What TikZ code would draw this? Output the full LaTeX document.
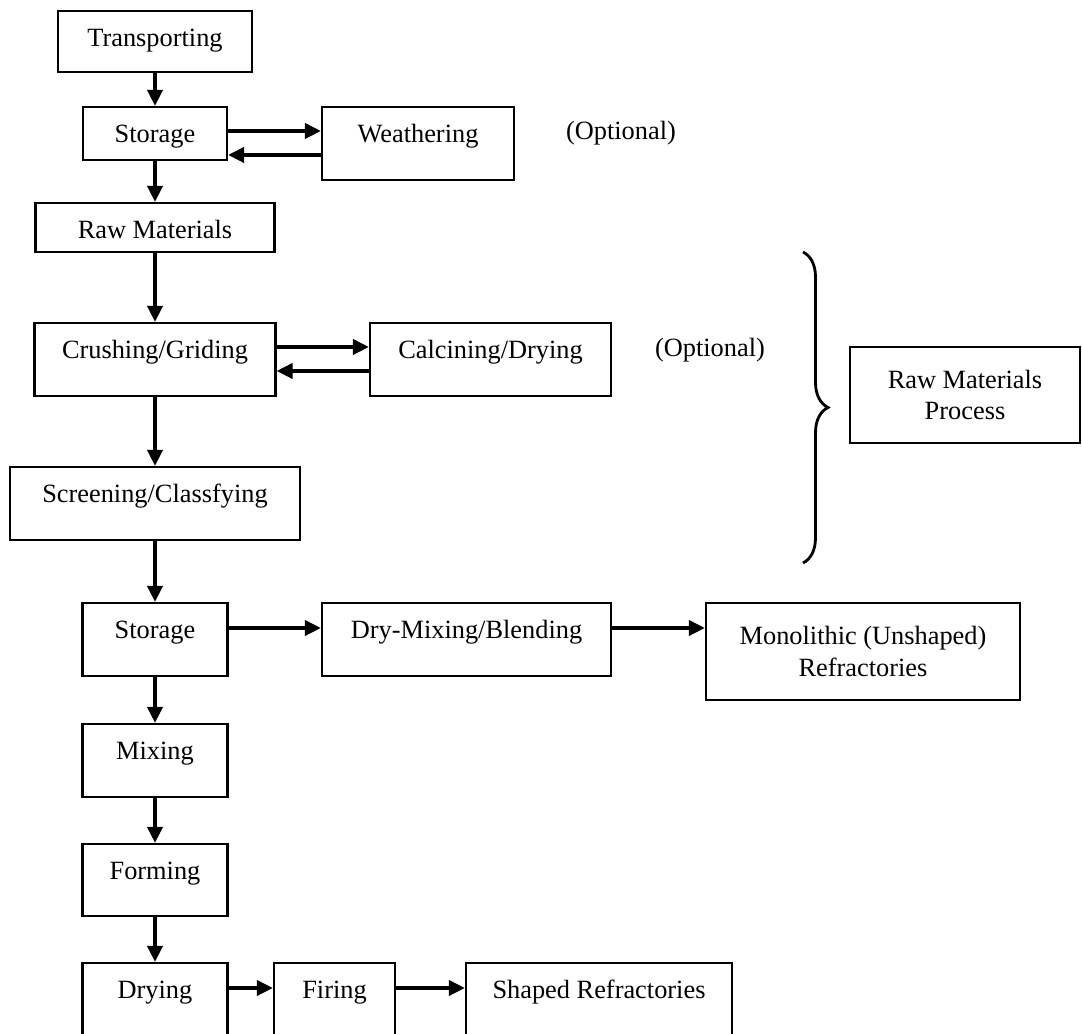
\documentclass[tikz,border=0pt]{standalone}
\usepackage{fontspec}
\setmainfont{Liberation Serif}
\usetikzlibrary{arrows.meta}
\usetikzlibrary{decorations.pathreplacing}

\tikzset{
  stepbox/.style={draw, line width=1.2pt, inner sep=0pt, text height=0.72cm, text depth=0.74cm, font=\fontsize{15}{18}\selectfont},
  twobox/.style={draw, line width=1.2pt, align=center, font=\fontsize{15}{18}\selectfont},
  flow/.style={-{Triangle[length=0.32cm,width=0.3cm]}, line width=2.1pt},
}

\begin{document}
\begin{tikzpicture}
\useasboundingbox (0,0) rectangle (21.64,20.68);
\clip (0,0) rectangle (21.64,20.68);

% raw materials part
\node[stepbox, minimum width=3.88cm, text depth=0.50cm] (trans) at (3.10,19.85) {Transporting};
\node[stepbox, minimum width=2.88cm, text depth=0.34cm] (stor1) at (3.10,18.01) {Storage};
\node[stepbox, minimum width=3.84cm] (weath) at (8.36,17.81) {Weathering};
\node[font=\fontsize{15}{18}\selectfont] (opt1) at (12.42,18.02) {(Optional)};
\node[stepbox, minimum width=4.78cm, text depth=0.26cm] (raw) at (3.10,16.13) {Raw Materials};
\node[stepbox, minimum width=4.82cm] (crush) at (3.10,13.49) {Crushing/Griding};
\node[stepbox, minimum width=4.82cm] (calc) at (9.81,13.49) {Calcining/Drying};
\node[font=\fontsize{15}{18}\selectfont] (opt2) at (14.2,13.68) {(Optional)};
\node[stepbox, minimum width=5.8cm] (screen) at (3.10,10.61) {Screening/Classfying};

\draw[line width=1.6pt, decorate, decoration={brace, amplitude=0.5cm}] (16.06,15.64) -- (16.06,9.42);
\node[twobox, minimum width=4.6cm, minimum height=1.92cm] (rmp) at (19.30,12.78) {Raw Materials\\Process};

% products part
\node[stepbox, minimum width=2.9cm] (stor2) at (3.10,7.89) {Storage};
\node[stepbox, minimum width=5.78cm] (dry) at (9.33,7.89) {Dry-Mixing/Blending};
\node[twobox, minimum width=6.28cm, minimum height=1.94cm] (mono) at (17.26,7.65) {Monolithic (Unshaped)\\Refractories};
\node[stepbox, minimum width=2.9cm] (mix) at (3.10,5.47) {Mixing};
\node[stepbox, minimum width=2.9cm, text depth=0.72cm] (form) at (3.10,3.08) {Forming};
\node[stepbox, minimum width=2.9cm, text depth=1.28cm] (drying) at (3.10,0.42) {Drying};
\node[stepbox, minimum width=2.42cm, text depth=1.28cm] (firing) at (6.69,0.42) {Firing};
\node[stepbox, minimum width=5.32cm, text depth=1.28cm] (shaped) at (11.98,0.42) {Shaped Refractories};

\draw[flow] (trans.south) -- (stor1.north);
\draw[flow] (stor1.east |- 0,18.06) -- (weath.west |- 0,18.06);
\draw[flow] (weath.west |- 0,17.58) -- (stor1.east |- 0,17.58);
\draw[flow] (stor1.south) -- (raw.north);
\draw[flow] (raw.south) -- (crush.north);
\draw[flow] (crush.east |- 0,13.74) -- (calc.west |- 0,13.74);
\draw[flow] (calc.west |- 0,13.26) -- (crush.east |- 0,13.26);
\draw[flow] (crush.south) -- (screen.north);
\draw[flow] (screen.south) -- (stor2.north);
\draw[flow] (stor2.east |- 0,8.12) -- (dry.west |- 0,8.12);
\draw[flow] (dry.east |- 0,8.12) -- (mono.west |- 0,8.12);
\draw[flow] (stor2.south) -- (mix.north);
\draw[flow] (mix.south) -- (form.north);
\draw[flow] (form.south) -- (drying.north);
\draw[flow] (drying.east |- 0,0.92) -- (firing.west |- 0,0.92);
\draw[flow] (firing.east |- 0,0.92) -- (shaped.west |- 0,0.92);

\end{tikzpicture}
\end{document}
